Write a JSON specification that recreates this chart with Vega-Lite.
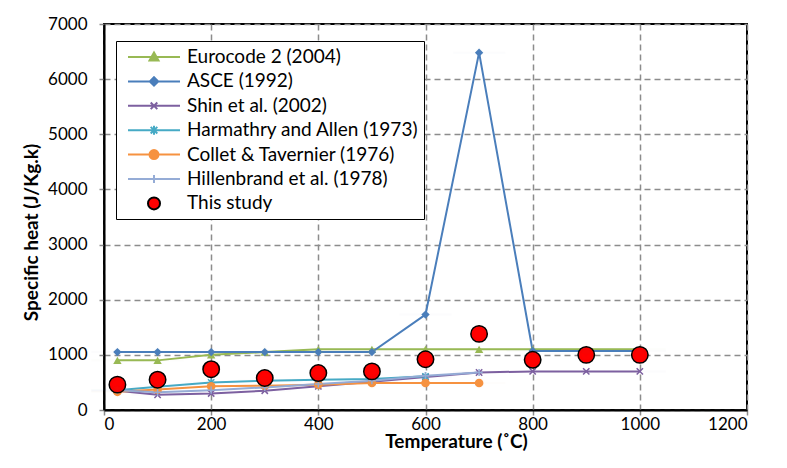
{
  "$schema": "https://vega.github.io/schema/vega-lite/v6.json",
  "width": 643,
  "height": 386,
  "autosize": {"type": "none"},
  "padding": {"left": 104, "top": 24, "right": 40, "bottom": 58},
  "background": "white",
  "config": {
    "font": "Lato",
    "view": {"stroke": "black", "strokeWidth": 2},
    "axis": {
      "grid": true,
      "gridDash": [6, 4],
      "gridColor": "#8c8c8c",
      "gridWidth": 1.5,
      "domainColor": "black",
      "domainWidth": 2,
      "tickColor": "#8c8c8c",
      "tickWidth": 1.5,
      "tickSize": 5,
      "labelFont": "Lato",
      "labelFontSize": 17,
      "labelColor": "black",
      "titleFont": "Lato",
      "titleFontSize": 19,
      "titleFontWeight": "bold",
      "titleColor": "black"
    }
  },
  "datasets": {
    "d": [
      {"s": "Eurocode 2 (2004)", "t": 25, "c": 900},
      {"s": "Eurocode 2 (2004)", "t": 100, "c": 900},
      {"s": "Eurocode 2 (2004)", "t": 200, "c": 1000},
      {"s": "Eurocode 2 (2004)", "t": 300, "c": 1050},
      {"s": "Eurocode 2 (2004)", "t": 400, "c": 1100},
      {"s": "Eurocode 2 (2004)", "t": 500, "c": 1100},
      {"s": "Eurocode 2 (2004)", "t": 600, "c": 1100},
      {"s": "Eurocode 2 (2004)", "t": 700, "c": 1100},
      {"s": "Eurocode 2 (2004)", "t": 800, "c": 1100},
      {"s": "Eurocode 2 (2004)", "t": 900, "c": 1100},
      {"s": "Eurocode 2 (2004)", "t": 1000, "c": 1100},
      {"s": "ASCE (1992)", "t": 25, "c": 1050},
      {"s": "ASCE (1992)", "t": 100, "c": 1050},
      {"s": "ASCE (1992)", "t": 200, "c": 1050},
      {"s": "ASCE (1992)", "t": 300, "c": 1050},
      {"s": "ASCE (1992)", "t": 400, "c": 1050},
      {"s": "ASCE (1992)", "t": 500, "c": 1050},
      {"s": "ASCE (1992)", "t": 600, "c": 1730},
      {"s": "ASCE (1992)", "t": 700, "c": 6480},
      {"s": "ASCE (1992)", "t": 800, "c": 1070},
      {"s": "ASCE (1992)", "t": 900, "c": 1070},
      {"s": "ASCE (1992)", "t": 1000, "c": 1070},
      {"s": "Shin et al. (2002)", "t": 25, "c": 350},
      {"s": "Shin et al. (2002)", "t": 100, "c": 275},
      {"s": "Shin et al. (2002)", "t": 200, "c": 300},
      {"s": "Shin et al. (2002)", "t": 300, "c": 350},
      {"s": "Shin et al. (2002)", "t": 400, "c": 430},
      {"s": "Shin et al. (2002)", "t": 500, "c": 510},
      {"s": "Shin et al. (2002)", "t": 600, "c": 600},
      {"s": "Shin et al. (2002)", "t": 700, "c": 680},
      {"s": "Shin et al. (2002)", "t": 800, "c": 700},
      {"s": "Shin et al. (2002)", "t": 900, "c": 700},
      {"s": "Shin et al. (2002)", "t": 1000, "c": 700},
      {"s": "Harmathry and Allen (1973)", "t": 25, "c": 360},
      {"s": "Harmathry and Allen (1973)", "t": 100, "c": 420},
      {"s": "Harmathry and Allen (1973)", "t": 200, "c": 500},
      {"s": "Harmathry and Allen (1973)", "t": 300, "c": 530},
      {"s": "Harmathry and Allen (1973)", "t": 400, "c": 550},
      {"s": "Harmathry and Allen (1973)", "t": 500, "c": 560},
      {"s": "Harmathry and Allen (1973)", "t": 600, "c": 610},
      {"s": "Collet & Tavernier (1976)", "t": 25, "c": 330},
      {"s": "Collet & Tavernier (1976)", "t": 100, "c": 370},
      {"s": "Collet & Tavernier (1976)", "t": 200, "c": 430},
      {"s": "Collet & Tavernier (1976)", "t": 300, "c": 440},
      {"s": "Collet & Tavernier (1976)", "t": 400, "c": 460},
      {"s": "Collet & Tavernier (1976)", "t": 500, "c": 490},
      {"s": "Collet & Tavernier (1976)", "t": 600, "c": 490},
      {"s": "Collet & Tavernier (1976)", "t": 700, "c": 490},
      {"s": "Hillenbrand  et al. (1978)", "t": 25, "c": 360},
      {"s": "Hillenbrand  et al. (1978)", "t": 100, "c": 320},
      {"s": "Hillenbrand  et al. (1978)", "t": 200, "c": 360},
      {"s": "Hillenbrand  et al. (1978)", "t": 300, "c": 410},
      {"s": "Hillenbrand  et al. (1978)", "t": 400, "c": 470},
      {"s": "Hillenbrand  et al. (1978)", "t": 500, "c": 530},
      {"s": "Hillenbrand  et al. (1978)", "t": 600, "c": 620},
      {"s": "Hillenbrand  et al. (1978)", "t": 700, "c": 680},
      {"s": "This study", "t": 25, "c": 460},
      {"s": "This study", "t": 100, "c": 550},
      {"s": "This study", "t": 200, "c": 740},
      {"s": "This study", "t": 300, "c": 580},
      {"s": "This study", "t": 400, "c": 670},
      {"s": "This study", "t": 500, "c": 700},
      {"s": "This study", "t": 600, "c": 920},
      {"s": "This study", "t": 700, "c": 1380},
      {"s": "This study", "t": 800, "c": 910},
      {"s": "This study", "t": 900, "c": 1000},
      {"s": "This study", "t": 1000, "c": 1000}
    ]
  },
  "data": {"name": "d"},
  "encoding": {
    "x": {
      "field": "t",
      "type": "quantitative",
      "scale": {"domain": [0, 1200], "nice": false},
      "axis": {
        "values": [0, 200, 400, 600, 800, 1000, 1200],
        "format": "d",
        "title": "Temperature (˚C)",
        "labelPadding": 1,
        "titlePadding": 0,
        "titleX": 352
      }
    },
    "y": {
      "field": "c",
      "type": "quantitative",
      "scale": {"domain": [0, 7000], "nice": false},
      "axis": {
        "values": [0, 1000, 2000, 3000, 4000, 5000, 6000, 7000],
        "format": "d",
        "title": "Specific heat (J/Kg.k)",
        "labelPadding": 12,
        "titlePadding": 6,
        "titleY": 208
      }
    }
  },
  "layer": [
    {
      "transform": [{"filter": "datum.s !== 'This study'"}],
      "mark": {"type": "line", "strokeWidth": 2},
      "encoding": {
        "color": {
          "field": "s",
          "type": "nominal",
          "scale": {
            "domain": ["Eurocode 2 (2004)", "ASCE (1992)", "Shin et al. (2002)", "Harmathry and Allen (1973)", "Collet & Tavernier (1976)", "Hillenbrand  et al. (1978)"],
            "range": ["#98B954", "#4A7EBB", "#7D60A0", "#46AAC5", "#F69240", "#95ACD6"]
          },
          "legend": null
        },
        "detail": {"field": "s"}
      }
    },
    {
      "transform": [{"filter": "datum.s === 'Eurocode 2 (2004)'"}],
      "mark": {"type": "point", "shape": "triangle-up", "size": 70, "filled": true, "opacity": 1, "color": "#98B954"}
    },
    {
      "transform": [{"filter": "datum.s === 'ASCE (1992)'"}],
      "mark": {"type": "point", "shape": "diamond", "size": 70, "filled": true, "opacity": 1, "color": "#4A7EBB"}
    },
    {
      "transform": [{"filter": "datum.s === 'Shin et al. (2002)'"}],
      "mark": {"type": "point", "shape": "M-1,-1L1,1M-1,1L1,-1", "size": 40, "filled": false, "opacity": 1, "color": "#7D60A0", "strokeWidth": 1.5}
    },
    {
      "transform": [{"filter": "datum.s === 'Harmathry and Allen (1973)'"}],
      "mark": {"type": "point", "shape": "M-1,-1L1,1M-1,1L1,-1M0,-1.3V1.3", "size": 40, "filled": false, "opacity": 1, "color": "#46AAC5", "strokeWidth": 1.5}
    },
    {
      "transform": [{"filter": "datum.s === 'Collet & Tavernier (1976)'"}],
      "mark": {"type": "point", "shape": "circle", "size": 75, "filled": true, "opacity": 1, "color": "#F69240"}
    },
    {
      "transform": [{"filter": "datum.s === 'Hillenbrand  et al. (1978)'"}],
      "mark": {"type": "point", "shape": "M-1,0H1M0,-1V1", "size": 50, "filled": false, "opacity": 1, "color": "#95ACD6", "strokeWidth": 1.5}
    },
    {
      "transform": [{"filter": "datum.s === 'This study'"}],
      "mark": {"type": "point", "shape": "circle", "size": 270, "filled": true, "opacity": 1, "fill": "#FF0000", "stroke": "black", "strokeWidth": 1.5}
    },
    {
      "mark": {"type": "point", "size": 400, "filled": true, "opacity": 0.01},
      "encoding": {
        "fill": {
          "field": "s",
          "type": "nominal",
          "scale": {
            "domain": ["Eurocode 2 (2004)", "ASCE (1992)", "Shin et al. (2002)", "Harmathry and Allen (1973)", "Collet & Tavernier (1976)", "Hillenbrand  et al. (1978)", "This study"],
            "range": ["#98B954", "#4A7EBB", "#7D60A0", "#46AAC5", "#F69240", "#95ACD6", "#FF0000"]
          },
          "legend": {"title": null}
        },
        "stroke": {
          "field": "s",
          "type": "nominal",
          "scale": {
            "domain": ["Eurocode 2 (2004)", "ASCE (1992)", "Shin et al. (2002)", "Harmathry and Allen (1973)", "Collet & Tavernier (1976)", "Hillenbrand  et al. (1978)", "This study"],
            "range": ["#98B954", "#4A7EBB", "#7D60A0", "#46AAC5", "#F69240", "#95ACD6", "#000000"]
          },
          "legend": {"title": null}
        },
        "shape": {
          "field": "s",
          "type": "nominal",
          "scale": {
            "domain": ["Eurocode 2 (2004)", "ASCE (1992)", "Shin et al. (2002)", "Harmathry and Allen (1973)", "Collet & Tavernier (1976)", "Hillenbrand  et al. (1978)", "This study"],
            "range": [
              "M-2.6,0H2.6M0,-0.45L0.45,0.35L-0.45,0.35Z",
              "M-2.6,0H2.6M0,-0.42L0.42,0L0,0.42L-0.42,0Z",
              "M-2.6,0H2.6M-0.33,-0.33L0.33,0.33M-0.33,0.33L0.33,-0.33",
              "M-2.6,0H2.6M-0.33,-0.33L0.33,0.33M-0.33,0.33L0.33,-0.33M0,-0.45V0.45",
              "M-2.6,0H2.6M0.45,0A0.45,0.45,0,1,1,-0.45,0A0.45,0.45,0,1,1,0.45,0Z",
              "M-2.6,0H2.6M0,-0.4V0.4M-0.4,0H0.4",
              "M0.6,0A0.6,0.6,0,1,1,-0.6,0A0.6,0.6,0,1,1,0.6,0Z"
            ]
          },
          "legend": {
            "title": null,
            "orient": "none",
            "legendX": 12,
            "legendY": 17,
            "strokeColor": "black",
            "fillColor": "white",
            "padding": 5,
            "symbolSize": 400,
            "symbolOffset": 22,
            "labelOffset": 22,
            "labelLimit": 500,
            "labelFont": "Lato",
            "labelFontSize": 19,
            "labelColor": "black",
            "rowPadding": 3.4,
            "symbolStrokeWidth": 2,
            "symbolOpacity": 1
          }
        }
      }
    }
  ]
}
